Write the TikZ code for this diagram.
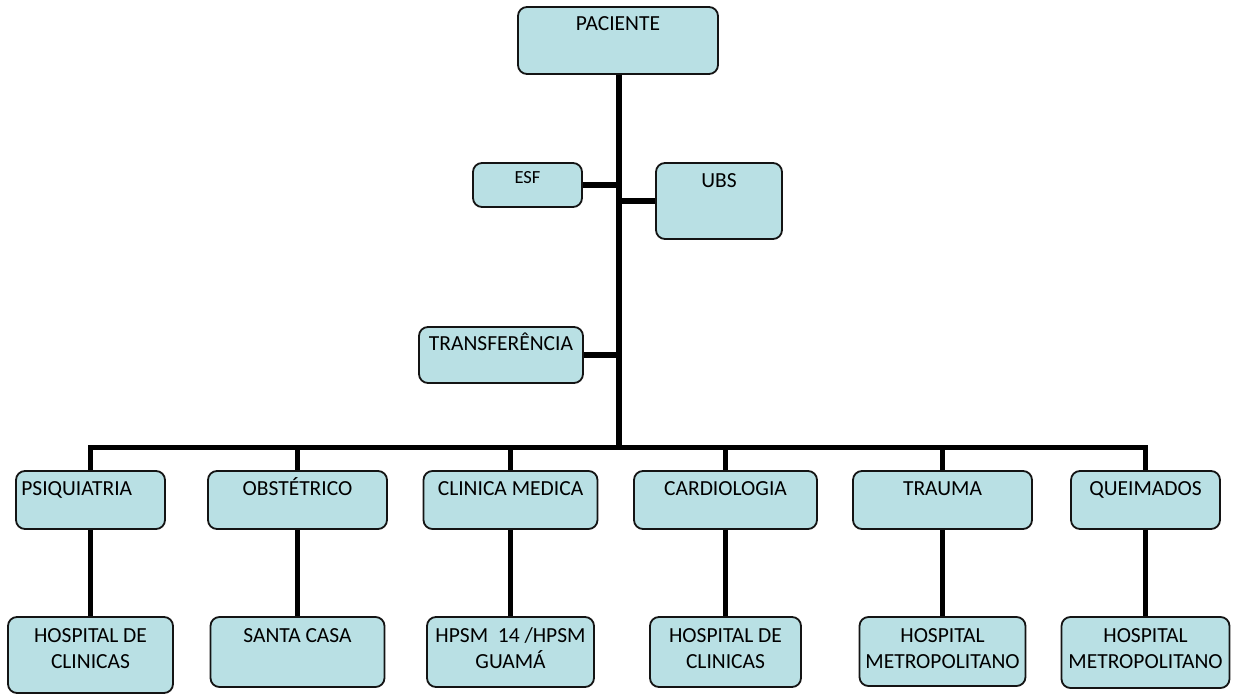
\documentclass[tikz,border=0pt]{standalone}
\usepackage{fontspec}
\setmainfont{Carlito}
\newcommand\mycap{\rule{0pt}{13.6pt}}
\newcommand\mycapsm{\rule{0pt}{11.7pt}}
\definecolor{boxfill}{RGB}{185,224,228}
\definecolor{boxline}{RGB}{20,20,20}
\begin{document}
\begin{tikzpicture}[x=1pt,y=-1pt,
  box/.style={draw=boxline, line width=1.8pt, fill=boxfill, rounded corners=9pt, inner sep=0pt},
  lbl/.style={anchor=north, inner sep=0pt, align=center, font=\fontsize{21.5}{26}\selectfont},
  conn/.style={line width=5.5pt, black},
  busline/.style={line width=5pt, black, line cap=rect}]
\useasboundingbox (0,0) rectangle (1241,695);
% boxes
\node[box, minimum width=200pt, minimum height=67pt] (pac) at (618,40.5) {};
\node[box, minimum width=109pt, minimum height=44pt] (esf) at (527.5,185) {};
\node[box, minimum width=126pt, minimum height=76pt] (ubs) at (719,201) {};
\node[box, minimum width=164pt, minimum height=56pt] (tra) at (501,355) {};
% row 2
\node[box, minimum width=149pt, minimum height=58pt] (psi) at (90.5,500) {};
\node[box, minimum width=179pt, minimum height=58pt] (obs) at (297.5,500) {};
\node[box, minimum width=174pt, minimum height=58pt] (cli) at (510.5,500) {};
\node[box, minimum width=183pt, minimum height=58pt] (car) at (725.5,500) {};
\node[box, minimum width=179pt, minimum height=58pt] (trm) at (942.5,500) {};
\node[box, minimum width=149pt, minimum height=58pt] (que) at (1145.5,500) {};
% row 3
\node[box, minimum width=165pt, minimum height=76pt] (hc1) at (90.5,655) {};
\node[box, minimum width=174pt, minimum height=70pt] (sc) at (297.5,652) {};
\node[box, minimum width=167pt, minimum height=70pt] (hps) at (510.5,652) {};
\node[box, minimum width=151pt, minimum height=70pt] (hc2) at (725.5,652) {};
\node[box, minimum width=166pt, minimum height=69pt] (hm1) at (942.5,651.5) {};
\node[box, minimum width=168pt, minimum height=71pt] (hm2) at (1145.5,652.5) {};
% texts
\node[lbl, yshift=-11pt] (tpac) at (pac.north) {\mycap\smash{PACIENTE}};
\node[lbl, yshift=-10pt, font=\fontsize{18.5}{22}\selectfont] (tesf) at (esf.north) {\mycapsm\smash{ESF}};
\node[lbl, yshift=-12pt] (tubs) at (ubs.north) {\mycap\smash{UBS}};
\node[lbl, yshift=-11pt] (ttra) at (tra.north) {\mycap\smash{TRANSFERÊNCIA}};
\node[lbl, anchor=north west, yshift=-12pt, xshift=6pt] (tpsi) at (psi.north west) {\mycap\smash{PSIQUIATRIA}};
\node[lbl, yshift=-12pt] (tobs) at (obs.north) {\mycap\smash{OBSTÉTRICO}};
\node[lbl, yshift=-12pt] (tcli) at (cli.north) {\mycap\smash{CLINICA MEDICA}};
\node[lbl, yshift=-12pt] (tcar) at (car.north) {\mycap\smash{CARDIOLOGIA}};
\node[lbl, yshift=-12pt] (ttrm) at (trm.north) {\mycap\smash{TRAUMA}};
\node[lbl, yshift=-12pt] (tque) at (que.north) {\mycap\smash{QUEIMADOS}};
\node[lbl, yshift=-13pt] (thc1) at (hc1.north) {\mycap\smash{HOSPITAL DE}\\CLINICAS};
\node[lbl, yshift=-13pt] (tsc) at (sc.north) {\mycap\smash{SANTA CASA}};
\node[lbl, yshift=-13pt] (thps) at (hps.north) {\mycap\smash{HPSM\ \ 14 /HPSM}\\GUAMÁ};
\node[lbl, yshift=-13pt] (thc2) at (hc2.north) {\mycap\smash{HOSPITAL DE}\\CLINICAS};
\node[lbl, yshift=-13pt] (thm1) at (hm1.north) {\mycap\smash{HOSPITAL}\\METROPOLITANO};
\node[lbl, yshift=-13pt] (thm2) at (hm2.north) {\mycap\smash{HOSPITAL}\\METROPOLITANO};
% connectors
\coordinate (bus) at (619,447);
\draw[conn] (pac.south -| bus) -- (bus);
\draw[conn] (esf.east) -- (esf.east -| bus);
\draw[conn] (ubs.west) -- (ubs.west -| bus);
\draw[conn] (tra.east) -- (tra.east -| bus);
\draw[busline] (psi.north |- bus) -- (que.north |- bus);
\foreach \a/\b in {psi/hc1, obs/sc, cli/hps, car/hc2, trm/hm1, que/hm2} {
  \draw[conn] (\a.north |- bus) -- (\a.north);
  \draw[conn] (\a.south) -- (\a.south |- \b.north);
}
\end{tikzpicture}
\end{document}
